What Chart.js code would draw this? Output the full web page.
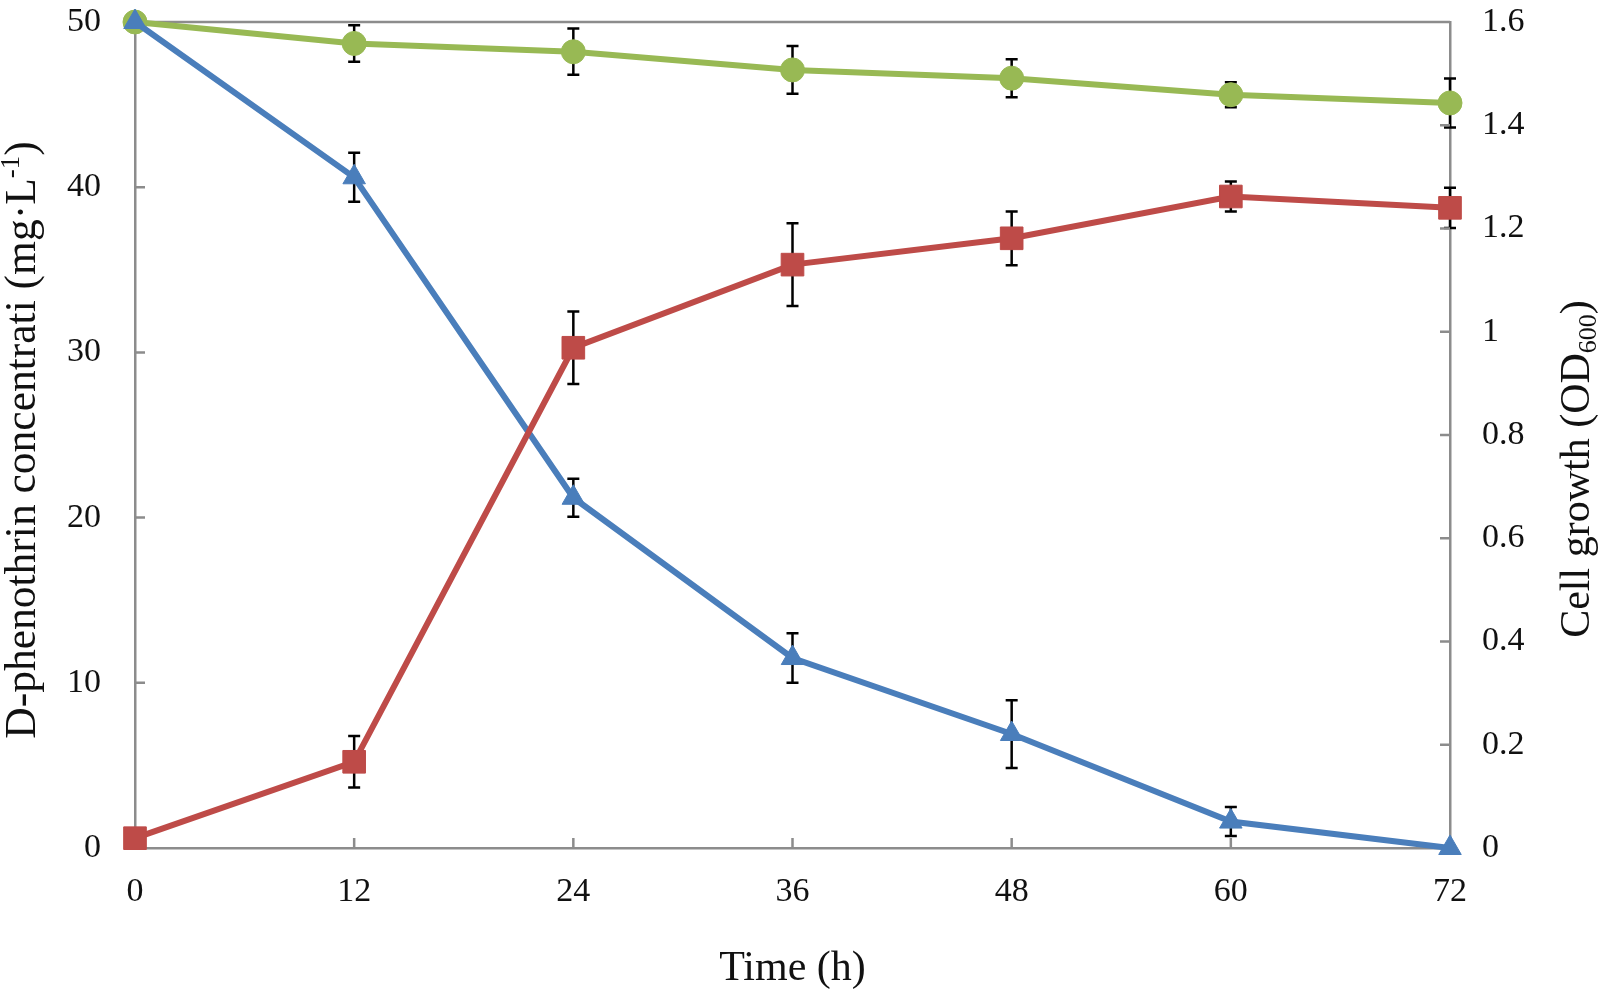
<!DOCTYPE html>
<html>
<head>
<meta charset="utf-8">
<title>D-phenothrin degradation and cell growth</title>
<script src="https://cdn.jsdelivr.net/npm/chart.js@4.4.0/dist/chart.umd.min.js"></script>
<style>
  html, body { margin: 0; padding: 0; background: #fff; }
  #wrap { width: 1600px; height: 994px; position: relative; }
</style>
</head>
<body>
<div id="wrap"><canvas id="chart"></canvas></div>
<script>
// Sampling times (h)
const timeHours = [0, 12, 24, 36, 48, 60, 72];

// D-phenothrin, control (mg/L), left axis
const controlConc = [50, 48.7, 48.2, 47.1, 46.6, 45.6, 45.1];
const controlErr  = [0, 1.1, 1.4, 1.45, 1.15, 0.76, 1.48];

// D-phenothrin with cells (mg/L), left axis
const degradedConc = [50, 40.6, 21.2, 11.5, 6.9, 1.6, 0];
const degradedErr  = [0, 1.48, 1.15, 1.5, 2.05, 0.88, 0];

// Cell growth (OD600), right axis
const cellOD  = [0.019, 0.167, 0.969, 1.130, 1.181, 1.262, 1.240];
const cellErr = [0, 0.05, 0.07, 0.08, 0.052, 0.029, 0.039];

// Tick labels
const timeTicks = [0, 12, 24, 36, 48, 60, 72];
const concTicks = [0, 10, 20, 30, 40, 50];
const odTicks   = [0, 0.2, 0.4, 0.6, 0.8, 1, 1.2, 1.4, 1.6];

// Colours
const colors = {
    blue: '#4A7EBB',
    red: '#BE4B48',
    green: '#98B954',
    axis: '#8C8C8C',
    text: '#111111'
};

const serif = '"Liberation Serif", "Times New Roman", serif';

function points(values) {
    return timeHours.map((t, i) => ({ x: t, y: values[i] }));
}

function setTicks(list) {
    return function(scale) {
        scale.ticks = list.map(v => ({ value: v }));
    };
}

// keep the plot box where the reference has it
function fixSize(prop, size) {
    return function(scale) {
        scale[prop] = size;
        scale.paddingTop = 0;
        scale.paddingBottom = 0;
        scale.paddingLeft = 0;
        scale.paddingRight = 0;
    };
}

// Error bars, drawn under the markers
const errorBarPlugin = {
    id: 'errorBars',
    beforeDatasetsDraw(chart) {
        const ctx = chart.ctx;
        ctx.save();
        ctx.strokeStyle = '#000';
        ctx.lineWidth = 2.5;
        chart.data.datasets.forEach((ds, i) => {
            if (!ds.errors) return;
            const meta = chart.getDatasetMeta(i);
            const yScale = chart.scales[ds.yAxisID];
            meta.data.forEach((pt, j) => {
                const e = ds.errors[j];
                if (!e) return;
                const v = ds.data[j].y;
                const top = yScale.getPixelForValue(v + e);
                const bot = yScale.getPixelForValue(v - e);
                ctx.beginPath();
                ctx.moveTo(pt.x, top);
                ctx.lineTo(pt.x, bot);
                ctx.moveTo(pt.x - 6, top);
                ctx.lineTo(pt.x + 6, top);
                ctx.moveTo(pt.x - 6, bot);
                ctx.lineTo(pt.x + 6, bot);
                ctx.stroke();
            });
        });
        ctx.restore();
    }
};

// Top border of the plot box and inward tick marks
const framePlugin = {
    id: 'frame',
    beforeDatasetsDraw(chart) {
        const ctx = chart.ctx;
        const a = chart.chartArea;
        ctx.save();
        ctx.strokeStyle = colors.axis;
        ctx.lineWidth = 2.5;
        ctx.beginPath();
        ctx.moveTo(a.left, a.top);
        ctx.lineTo(a.right, a.top);
        const len = 10;
        chart.scales.x.ticks.forEach(t => {
            const px = chart.scales.x.getPixelForValue(t.value);
            ctx.moveTo(px, a.bottom);
            ctx.lineTo(px, a.bottom - len);
        });
        chart.scales.y.ticks.forEach(t => {
            const py = chart.scales.y.getPixelForValue(t.value);
            ctx.moveTo(a.left, py);
            ctx.lineTo(a.left + len, py);
        });
        chart.scales.y1.ticks.forEach(t => {
            const py = chart.scales.y1.getPixelForValue(t.value);
            ctx.moveTo(a.right, py);
            ctx.lineTo(a.right - len, py);
        });
        ctx.stroke();
        ctx.restore();
    }
};

// Axis titles with super/subscripts
function drawRich(ctx, parts, size) {
    let total = 0;
    parts.forEach(p => {
        ctx.font = (p[1] === 'n' ? size : Math.round(size * 0.62)) + 'px ' + serif;
        total += ctx.measureText(p[0]).width;
    });
    let x = -total / 2;
    parts.forEach(p => {
        const s = p[1] === 'n' ? size : Math.round(size * 0.62);
        ctx.font = s + 'px ' + serif;
        let dy = 0;
        if (p[1] === 'sup') dy = -size * 0.36;
        if (p[1] === 'sub') dy = size * 0.16;
        ctx.fillText(p[0], x, dy);
        x += ctx.measureText(p[0]).width;
    });
}

const titlePlugin = {
    id: 'axisTitles',
    afterDraw(chart) {
        const ctx = chart.ctx;
        const a = chart.chartArea;
        ctx.save();
        ctx.fillStyle = colors.text;
        ctx.textAlign = 'left';
        ctx.textBaseline = 'alphabetic';

        ctx.save();
        ctx.translate(a.left - 100, 440);
        ctx.rotate(-Math.PI / 2);
        drawRich(ctx, [['D-phenothrin concentrati (mg\u00B7L', 'n'], ['-1', 'sup'], [')', 'n']], 43.5);
        ctx.restore();

        ctx.save();
        ctx.translate(a.right + 139, 469);
        ctx.rotate(-Math.PI / 2);
        drawRich(ctx, [['Cell growth (OD', 'n'], ['600', 'sub'], [')', 'n']], 42);
        ctx.restore();

        ctx.save();
        ctx.translate((a.left + a.right) / 2, a.bottom + 132);
        drawRich(ctx, [['Time (h)', 'n']], 42);
        ctx.restore();

        ctx.restore();
    }
};

function lineDataset(label, values, errors, color, style, radius, axis) {
    return {
        label: label,
        data: points(values),
        errors: errors,
        yAxisID: axis,
        borderColor: color,
        backgroundColor: color,
        borderWidth: 6,
        pointStyle: style,
        pointRadius: radius,
        pointHoverRadius: radius,
        pointBackgroundColor: color,
        pointBorderColor: color,
        pointBorderWidth: 1,
        tension: 0,
        clip: false
    };
}

const tickFont = { family: serif, size: 34 };

new Chart(document.getElementById('chart'), {
    type: 'line',
    data: {
        datasets: [
            lineDataset('Cell growth', cellOD, cellErr, colors.red, 'rect', 16, 'y1'),
            lineDataset('D-phenothrin', degradedConc, degradedErr, colors.blue, 'triangle', 13, 'y'),
            lineDataset('Control', controlConc, controlErr, colors.green, 'circle', 12, 'y')
        ]
    },
    options: {
        responsive: true,
        maintainAspectRatio: false,
        animation: false,
        layout: { padding: { top: 22, left: 0, right: 0, bottom: 0 } },
        plugins: {
            legend: { display: false },
            tooltip: { enabled: false }
        },
        scales: {
            x: {
                type: 'linear',
                min: 0,
                max: 72,
                afterBuildTicks: setTicks(timeTicks),
                afterFit: fixSize('height', 146),
                grid: { display: false, drawTicks: false },
                border: { display: true, color: colors.axis, width: 2.5 },
                ticks: { color: colors.text, font: tickFont, padding: 24, maxRotation: 0 }
            },
            y: {
                position: 'left',
                min: 0,
                max: 50,
                afterBuildTicks: setTicks(concTicks),
                afterFit: fixSize('width', 135),
                grid: { display: false, drawTicks: false },
                border: { display: true, color: colors.axis, width: 2.5 },
                ticks: { color: colors.text, font: tickFont, padding: 34 }
            },
            y1: {
                position: 'right',
                min: 0,
                max: 1.6,
                afterBuildTicks: setTicks(odTicks),
                afterFit: fixSize('width', 150),
                grid: { display: false, drawTicks: false },
                border: { display: true, color: colors.axis, width: 2.5 },
                ticks: {
                    color: colors.text,
                    font: tickFont,
                    padding: 32,
                    callback: v => String(Number(v.toFixed(1)))
                }
            }
        }
    },
    plugins: [errorBarPlugin, framePlugin, titlePlugin]
});
</script>
</body>
</html>
